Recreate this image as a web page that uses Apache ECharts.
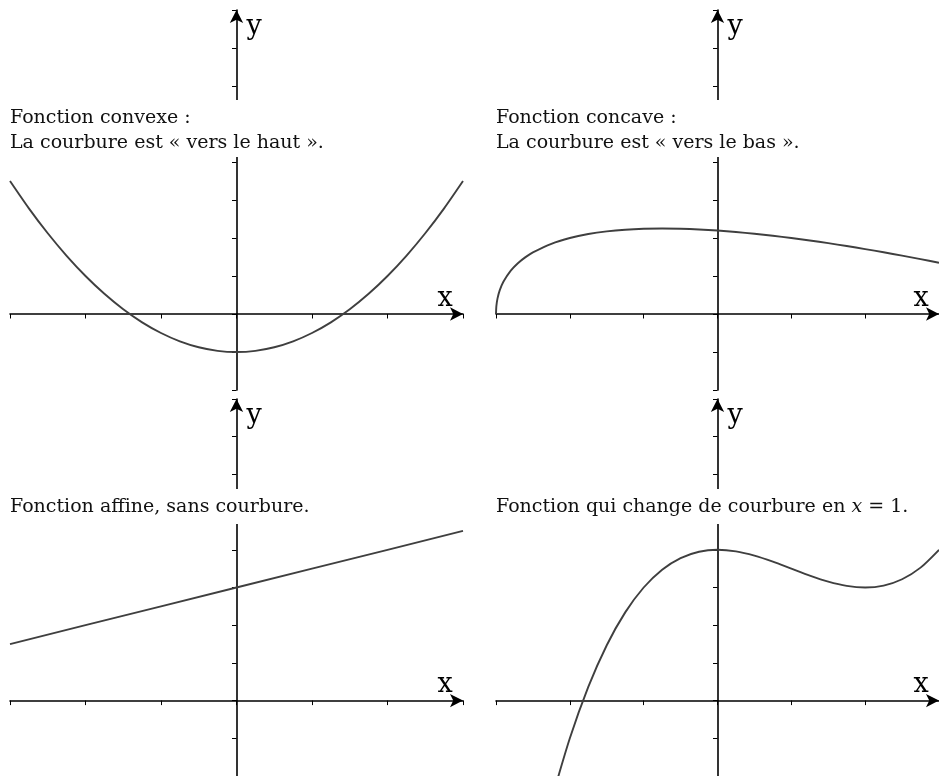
<!DOCTYPE html>
<html>
<head>
<meta charset="utf-8">
<script src="https://cdn.jsdelivr.net/npm/echarts@6/dist/echarts.min.js"></script>
<style>
  html, body { margin: 0; padding: 0; background: #fff; }
  #chart { width: 939px; height: 776px; }
</style>
</head>
<body>
<div id="chart"></div>
<script>
// Same frame for the four panels
const xRange = [-3, 3];
const yRange = [-2, 8];

// Convex: parabola, min at x = 0
const convexX = [-3, -2.75, -2.5, -2.25, -2, -1.75, -1.5, -1.25, -1, -0.75, -0.5, -0.25, 0, 0.25, 0.5, 0.75, 1, 1.25, 1.5, 1.75, 2, 2.25, 2.5, 2.75, 3];
const convexY = [3.5, 2.781, 2.125, 1.531, 1, 0.531, 0.125, -0.219, -0.5, -0.719, -0.875, -0.969, -1, -0.969, -0.875, -0.719, -0.5, -0.219, 0.125, 0.531, 1, 1.531, 2.125, 2.781, 3.5];

// Concave: starts vertical at x = -3
const concaveX = [-3, -2.995, -2.98, -2.95, -2.9, -2.8, -2.7, -2.6, -2.5, -2.25, -2, -1.75, -1.5, -1.25, -1, -0.75, -0.5, -0.25, 0, 0.25, 0.5, 0.75, 1, 1.25, 1.5, 1.75, 2, 2.25, 2.5, 2.75, 3];
const concaveY = [0, 0.207, 0.404, 0.621, 0.849, 1.142, 1.343, 1.497, 1.621, 1.848, 2, 2.104, 2.174, 2.219, 2.243, 2.25, 2.243, 2.225, 2.196, 2.158, 2.112, 2.059, 2, 1.935, 1.864, 1.788, 1.708, 1.624, 1.536, 1.444, 1.348];

// Affine
const affineX = [-3, -2, -1, 0, 1, 2, 3];
const affineY = [1.5, 2, 2.5, 3, 3.5, 4, 4.5];

// Changes curvature at x = 1
const inflexX = [-2.25, -2, -1.75, -1.5, -1.25, -1, -0.75, -0.5, -0.25, 0, 0.25, 0.5, 0.75, 1, 1.25, 1.5, 1.75, 2, 2.25, 2.5, 2.75, 3];
const inflexY = [-2.645, -1, 0.363, 1.469, 2.340, 3, 3.473, 3.781, 3.949, 4, 3.957, 3.844, 3.684, 3.5, 3.316, 3.156, 3.043, 3, 3.051, 3.219, 3.527, 4];

const captions = [
    'Fonction convexe :\nLa courbure est « vers le haut ».',
    'Fonction concave :\nLa courbure est « vers le bas ».',
    'Fonction affine, sans courbure.',
    'Fonction qui change de courbure en {m|x} = 1.'
];

const serif = '"DejaVu Serif", "Liberation Serif", serif';
const curveColor = '#3f3f3f';

// panel layout (pixels)
const panels = [
    { left: 10, top: 10 },
    { left: 496, top: 10 },
    { left: 10, top: 399 },
    { left: 496, top: 399 }
];
const gridW = 453;
const gridH = 380;

function zip(xs, ys) {
    return xs.map((x, i) => [x, ys[i]]);
}

const curves = [
    zip(convexX, convexY),
    zip(concaveX, concaveY),
    zip(affineX, affineY),
    zip(inflexX, inflexY)
];

const axisLine = {
    onZero: true,
    symbol: ['none', 'arrow'],
    symbolSize: [10, 13],
    lineStyle: { color: '#000', width: 1.6 }
};

const grid = panels.map(p => ({ left: p.left, top: p.top, width: gridW, height: gridH }));

const xAxis = panels.map((p, i) => ({
    type: 'value', gridIndex: i,
    min: xRange[0], max: xRange[1], interval: 1,
    axisLine: axisLine,
    axisTick: { show: true, length: 4.5, lineStyle: { color: '#000', width: 1 } },
    axisLabel: { show: false },
    splitLine: { show: false },
    name: 'x', nameLocation: 'end', nameGap: -18,
    nameTextStyle: { fontFamily: serif, fontSize: 27, color: '#000', align: 'center', verticalAlign: 'bottom', padding: [0, 0, 2, 0] }
}));

const yAxis = panels.map((p, i) => ({
    type: 'value', gridIndex: i,
    min: yRange[0], max: yRange[1], interval: 1,
    axisLine: axisLine,
    axisTick: { show: true, length: 4.5, lineStyle: { color: '#000', width: 1 } },
    axisLabel: { show: false },
    splitLine: { show: false },
    name: 'y', nameLocation: 'end', nameGap: -17,
    nameTextStyle: { fontFamily: serif, fontSize: 27, color: '#000', align: 'left', verticalAlign: 'middle', padding: [0, 0, 0, 10] }
}));

const series = curves.map((data, i) => ({
    type: 'line', xAxisIndex: i, yAxisIndex: i,
    data: data,
    smooth: i === 2 ? false : 0.25,
    showSymbol: false,
    lineStyle: { color: curveColor, width: 1.9 },
    silent: true
}));

// white band behind each caption hides the y axis there
const bandTop = [100, 100, 489, 489];
const bandH = [57, 57, 35, 35];
const graphic = [];
panels.forEach((p, i) => {
    graphic.push({
        type: 'rect', z: 100,
        shape: { x: i % 2 ? 470 : 0, y: bandTop[i], width: 469, height: bandH[i] },
        style: { fill: '#fff' }
    });
    graphic.push({
        type: 'text', z: 101,
        style: {
            x: p.left, y: bandTop[i] + 5,
            text: captions[i],
            font: '19px ' + serif,
            fill: '#111',
            lineHeight: 25.6,
            verticalAlign: 'top',
            rich: { m: { fontFamily: serif, fontStyle: 'italic', fontSize: 19, lineHeight: 25.6 } }
        }
    });
});

const chart = echarts.init(document.getElementById('chart'));
chart.setOption({
    animation: false,
    backgroundColor: '#fff',
    grid, xAxis, yAxis, series, graphic
});
</script>
</body>
</html>
